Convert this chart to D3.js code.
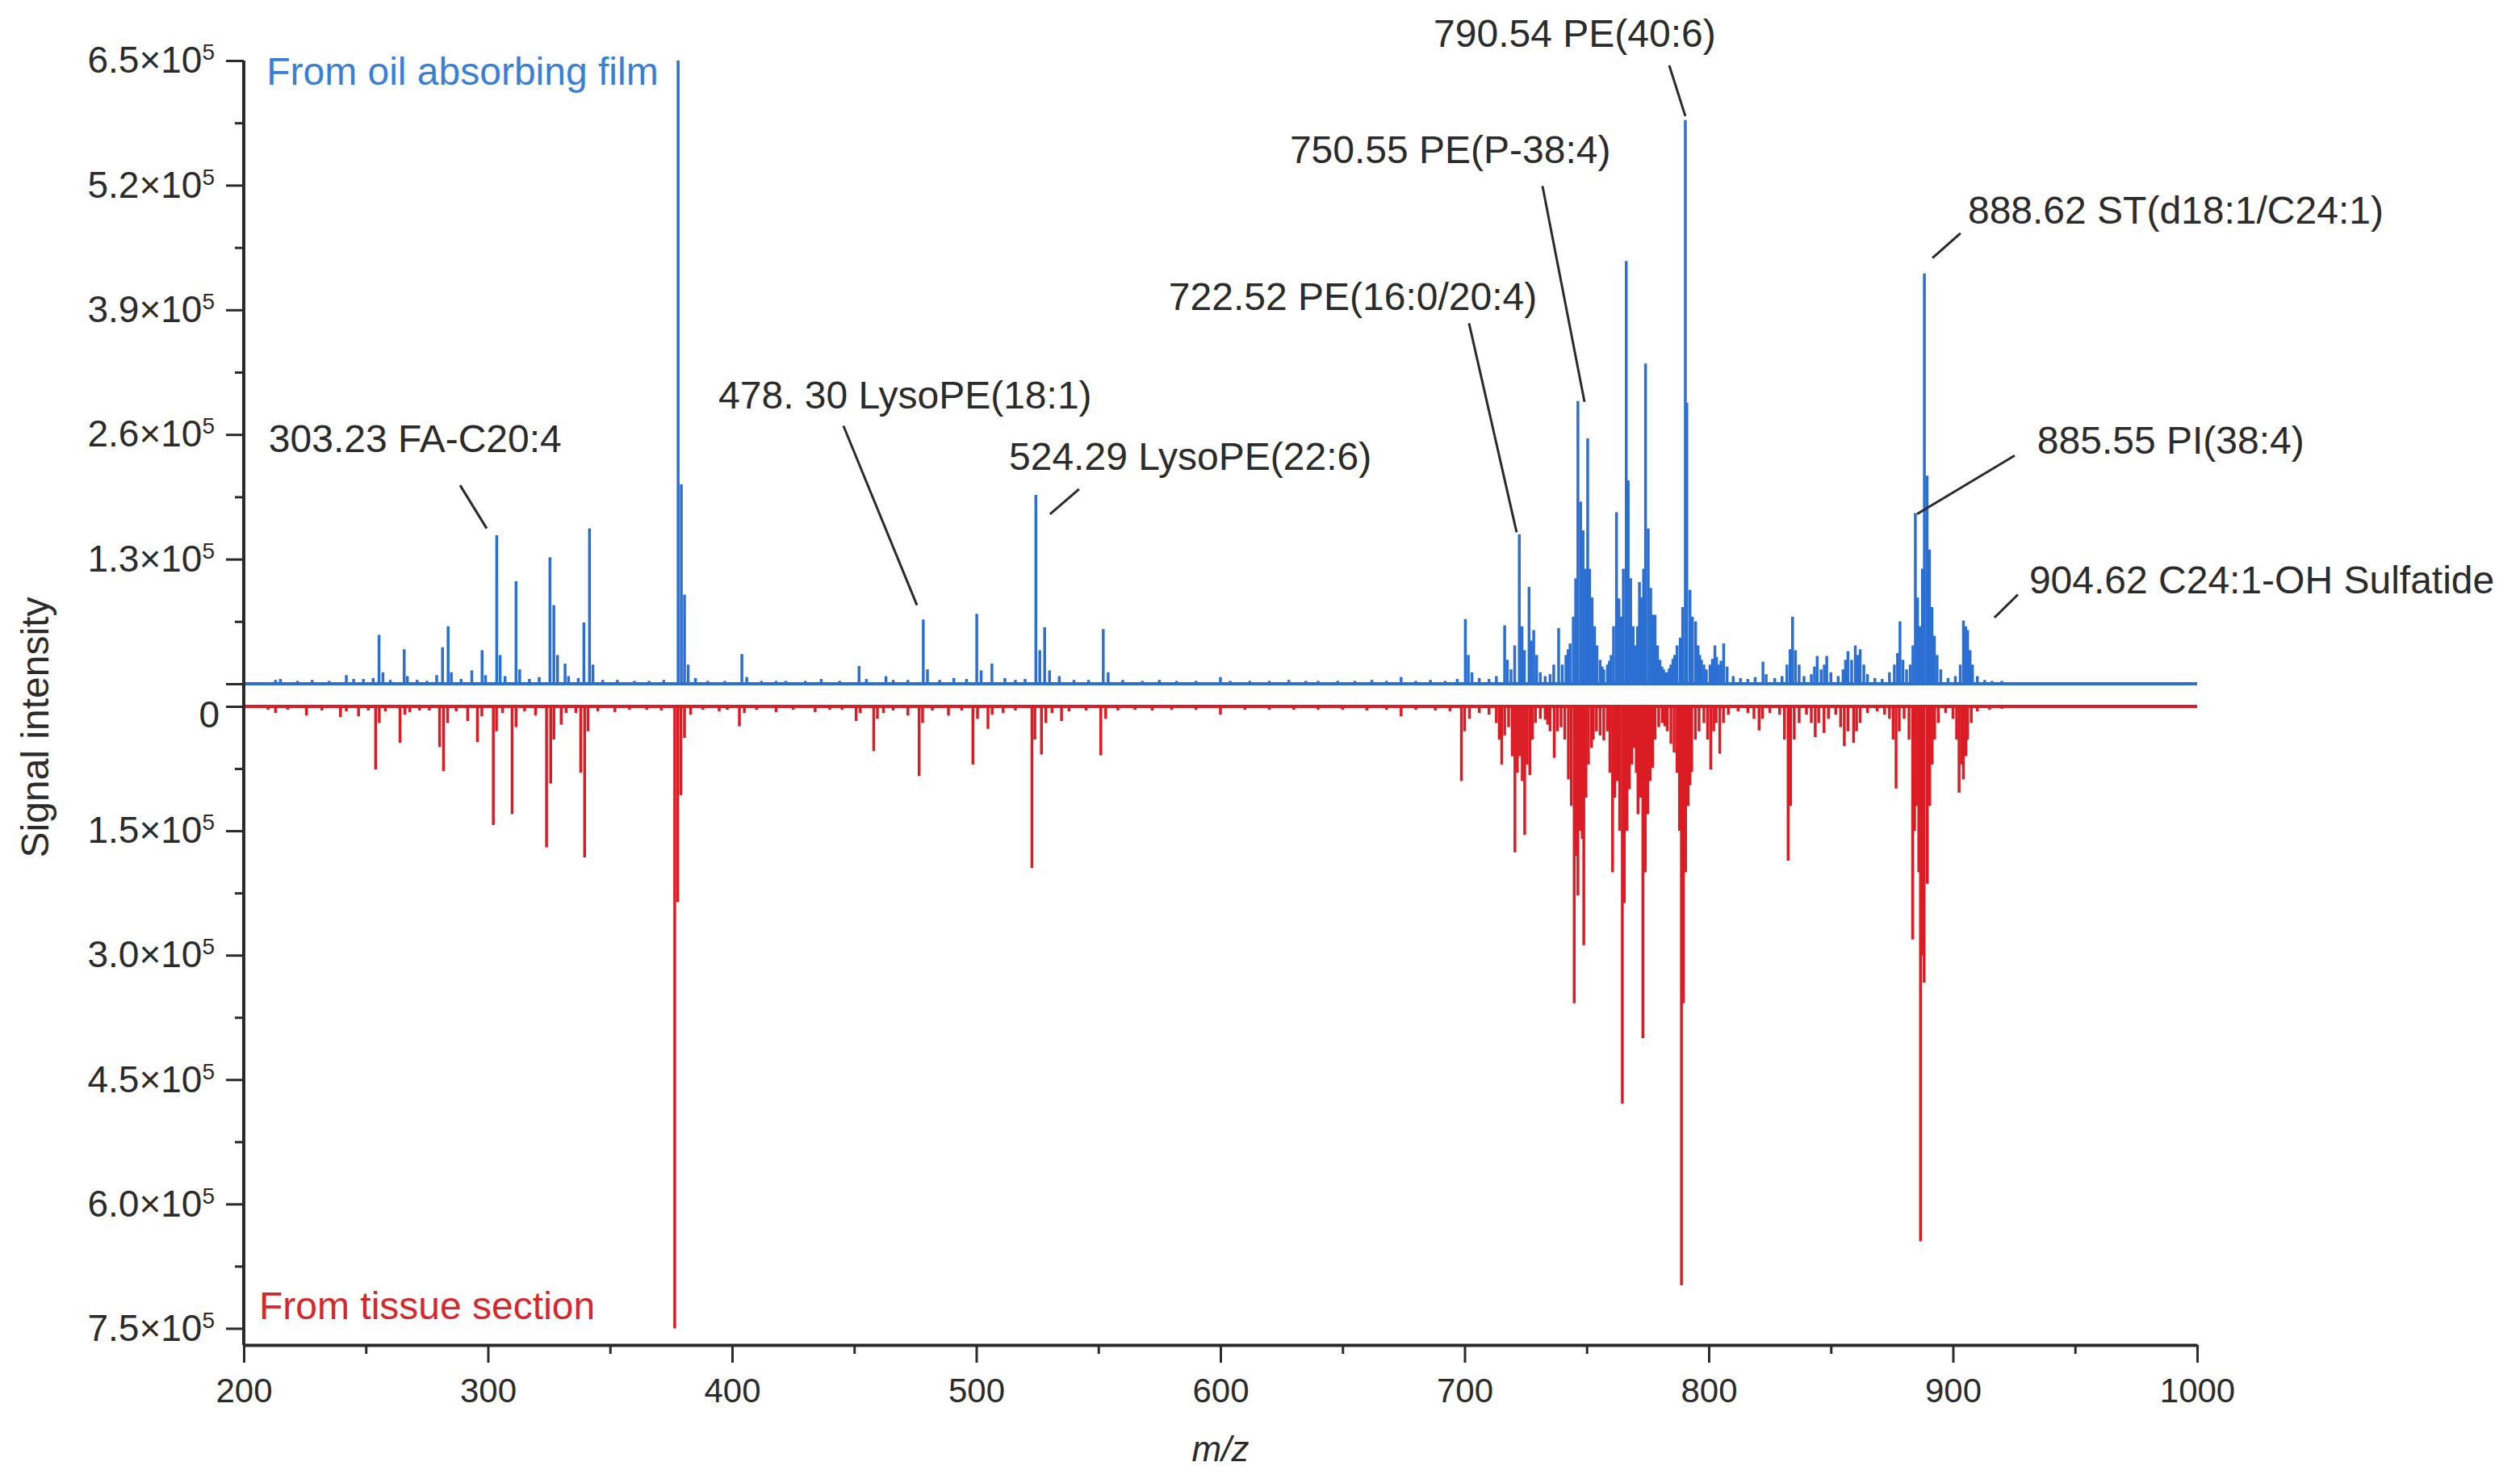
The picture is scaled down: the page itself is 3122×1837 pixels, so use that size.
<!DOCTYPE html>
<html>
<head>
<meta charset="utf-8">
<script src="https://cdn.jsdelivr.net/npm/d3@7"></script>
<style>
  body { margin: 0; background: #fff; }
  text { font-family: "Liberation Sans", Arial, sans-serif; }
</style>
</head>
<body>
<div class="chart"></div>
<script>
let svgWidth = 3122;
let svgHeight = 1837;

// m/z, signal intensity (upper spectrum, oil absorbing film)
let topPeaks = [
  [213,4000],[215,5000],[222,3000],[228,4000],[235,3000],[242,9000],[245,5000],[249,5000],
  [253,6000],[255.4,51000],[257,12000],[260,4000],[265.7,36000],[267,8000],[271,4000],[275,3000],
  [279,9000],[281.4,38000],[283.7,60000],[285,12000],[289,5000],[293.4,14000],[297.6,35000],[299,9000],
  [303.6,155000],[305,30000],[307,8000],[311.5,107000],[313,15000],[317,5000],[321,7000],
  [325.4,132000],[327,82000],[328.5,30000],[331.6,21000],[333,8000],[337,6000],[339.3,64000],
  [341.6,162000],[343,20000],[347,4000],[353,4000],[360,3000],[366,3000],[372,4000],
  [377.9,650000],[379.2,208000],[380.5,93000],[382,20000],[385,6000],[390,3000],[397,3000],
  [404,31000],[406,7000],[412,3000],[418,3000],[422,3000],[430,3000],[436.5,5000],[444,3000],
  [452,18600],[455,5000],[463,8000],[466,4000],[472,4000],[478.3,67000],[480,15000],[485,4000],
  [490.8,6000],[496,5000],[500.2,73000],[502,14000],[506.4,21000],[511.7,6000],[516,4000],[520,5000],
  [524.4,197000],[526,35000],[528,59000],[530,14000],[534,8000],[540,4000],[546,4000],[552,57000],
  [554,12000],[560,4000],[568,3000],[575,4000],[582,3000],[590,3000],[600,7000],[604,3000],
  [612,3000],[620,3000],[628,4000],[635,3000],[640,3000],[648,3000],[655,3000],[662,4000],
  [668,3000],[674,7000],[680,3000],[686,4000],[692,3000],[697,5000],
  [700.3,67500],[701.5,30000],[703,12000],[706,6000],[710,5000],[713,8000],[716.4,61000],
  [717.5,25000],[719,15000],[720.5,40000],[722.4,156000],[723.5,60000],[724.5,35000],[726.4,101000],
  [727.3,45000],[728.3,56000],[729.5,30000],[731,12000],[733,8000],[735,10000],[736.5,20000],
  [738.5,58000],[740,20000],[741.5,30000],[742.4,36000],[743.2,42000],[744.5,70000],[745.5,110000],[746.4,295000],
  [747.5,190000],[748.5,160000],[749.5,120000],[750.4,256000],[751.2,120000],[752.2,90000],
  [753.2,60000],[754.2,40000],[755.5,25000],[756.3,18000],[757,15000],[758.5,20000],[759.3,24000],[760,30000],[761,60000],
  [762.2,179000],[763.2,89000],[764.2,70000],[765,120000],[766.2,441000],[767,212000],[768,110000],
  [769,60000],[770,40000],[770.8,60000],[771.6,106000],[772.5,90000],[773.3,120000],[774.1,334000],[775.2,162000],
  [776.2,100000],[777,72000],[778,72000],[779,40000],[780,25000],[780.8,18000],[781.5,15000],[782.3,12000],[783,12000],
  [783.8,16000],[784.5,20000],[785.3,26000],[786,30000],[787,40000],[788.3,48000],[789.3,80000],[790.4,588000],[791,293000],
  [792.3,98000],[793.3,70000],[794.6,65000],[795.6,40000],[796.3,30000],[797,25000],[798,20000],[799,15000],[800.5,20000],
  [801.5,26000],[802.5,40000],[803.2,28000],[804,20000],[805,24000],[806.1,42000],[807.5,18000],[810,8000],[813,6000],[816,5000],[819,7000],
  [822.2,23000],[823.5,10000],[827,6000],[830,8000],[832,20000],[833.3,36000],[834.3,70000],[835.5,35000],
  [837,20000],[839,8000],[842,10000],[843.3,18000],[844.4,29000],[846,15000],[847.3,20000],[848.3,29000],[850,12000],[853,8000],
  [855,15000],[856,25000],[857,34000],[858.5,25000],[860,40000],[861,30000],[862,36000],[863.5,20000],
  [865,10000],[868,6000],[871,5000],[874,12000],[876,20000],[877.3,32000],[878.3,65000],[879.5,25000],[881,15000],
  [882.5,20000],[883.6,40000],[884.6,178000],[885.5,90000],[886.5,60000],[887.5,120000],[888.3,428000],
  [889.4,217000],[890.4,140000],[891.4,80000],[892.4,50000],[893.5,30000],[895,15000],[898,6000],
  [901,8000],[903,20000],[904.3,66000],[905.2,60000],[906,56000],[907,35000],[908,20000],[910,8000],
  [913,4000],[916,3000],[920,3000]
];

// m/z, signal intensity (lower spectrum, tissue section)
let bottomPeaks = [
  [210,4000],[213,7800],[218,4000],[225.7,11000],[232,5000],[239.6,13000],[242,6000],[247,12000],
  [251,5000],[254,76000],[255.5,20000],[258,6000],[264,44000],[266,10000],[268,7000],[272,5000],
  [276,5000],[280.2,49000],[281.8,78000],[283.5,20000],[287,6000],[291.7,17500],[295.7,43000],
  [297.5,12000],[302.2,143000],[303.5,30000],[306,8000],[309.9,130000],[311.5,25000],[315,6000],
  [319.5,11000],[324,170000],[325.7,93000],[327,40000],[330,22000],[332,8000],[336,8000],
  [338,80000],[339.6,182000],[341,30000],[345,6000],[352,7000],[358,4000],[365,4000],[371,5000],
  [376.5,750000],[377.7,236000],[379,107000],[380.5,38000],[383,10000],[388,4000],[394.7,6000],
  [398,4000],[403,24000],[405,8000],[410,4000],[418,7000],[425,4000],[434,7000],[440,4000],
  [445,4000],[450.8,17500],[452.5,8000],[458,54000],[459.5,15000],[462,8000],[466,5000],
  [472,11000],[476.6,84000],[478,20000],[482,5000],[488.6,11000],[494,5000],[498.6,70000],
  [500.5,15000],[504.8,27000],[506.5,10000],[511,8000],[516,5000],[522.8,195000],[524,40000],
  [526.7,58000],[528.5,20000],[531,8000],[534.9,17500],[538,6000],[545,5000],[551,59000],
  [553,15000],[558,5000],[565,4000],[572,5000],[580,4000],[590,4000],[600,10000],[610,4000],
  [620,4000],[630,4000],[640,4000],[650,4000],[660,5000],[668,4000],[674,12000],[680,4000],
  [688,5000],[694,6000],
  [698.7,90000],[700,30000],[702,15000],[706,8000],[710,10000],[713,20000],[714.2,40000],[715.2,70000],
  [716.4,35000],[718,25000],[719.5,60000],[720.6,176000],[721.6,80000],[722.6,60000],[723.6,90000],
  [724.6,155000],[725.6,70000],[726.7,83000],[727.8,40000],[729,20000],[731,15000],[733,16000],
  [734,22000],[735,30000],[736.7,62000],[738,30000],[739.5,25000],[741,40000],[742.5,88000],[743.7,120000],
  [744.9,358000],[745.7,180000],[746.4,228000],[747.3,150000],[748.2,160000],[748.8,288000],
  [749.7,110000],[750.7,70000],[752,50000],[752.7,40000],[754,30000],[755.5,35000],[757,41000],
  [758.5,30000],[759.5,80000],[760.6,200000],[761.5,110000],[762.5,90000],[763.5,150000],
  [764.6,479000],[765.4,237000],[766.5,150000],[767.5,100000],[768.5,70000],[769.5,50000],
  [770.3,80000],[771,130000],[772,110000],[773,400000],[774,200000],[775,130000],[776,90000],[777,74000],
  [778,40000],[779.5,25000],[781,20000],[782,24000],[783,30000],[784.5,45000],[785.8,55500],[787,80000],
  [788,150000],[788.8,698000],[789.6,358000],[790.5,200000],[791.5,120000],[792.3,95000],[793,79000],
  [794.5,40000],[796,30000],[798,20000],[799.5,40000],[800.8,76000],[802,30000],[803,20000],[804.5,57000],
  [806,20000],[808,10000],[812,6000],[816,8000],[818.5,15000],[820.6,29000],[822,15000],[825,8000],
  [829,10000],[831,40000],[832.5,186000],[833.5,120000],[835,40000],[837,20000],[840,10000],
  [842,20000],[843.6,37000],[845,20000],[847.2,32000],[849,15000],[852,10000],[854,25000],
  [855.5,48000],[857,30000],[859.3,44000],[860.5,30000],[862,20000],[865,8000],[869,6000],
  [872,10000],[874,15000],[875.5,40000],[876.7,99000],[878,30000],[880,15000],[882,40000],
  [883.5,281000],[884.3,150000],[885,120000],[886,200000],[886.7,645000],[887.5,300000],
  [888.2,333000],[889.5,214000],[890.5,120000],[891.5,70000],[892.5,40000],[894,20000],[897,8000],
  [900,15000],[901.5,40000],[902.5,104000],[903.5,70000],[904.3,88000],[905.3,60000],[906,40000],
  [907.5,20000],[910,6000],[915,4000],[920,3000]
];

// axis ticks
let xTicks = [200, 300, 400, 500, 600, 700, 800, 900, 1000];
let xMinorTicks = [250, 350, 450, 550, 650, 750, 850, 950];
let topTicks = [0, 130000, 260000, 390000, 520000, 650000];
let topMinorTicks = [65000, 195000, 325000, 455000, 585000];
let bottomTicks = [0, 150000, 300000, 450000, 600000, 750000];
let bottomMinorTicks = [75000, 225000, 375000, 525000, 675000];

// peak labels: text anchor [m/z, intensity], leader line from -> to (upper spectrum units)
let annotations = [
  { label: "303.23 FA-C20:4", at: [210.2, 242000], from: [288.6, 207000], to: [299.5, 162000] },
  { label: "478. 30 LysoPE(18:1)", at: [394.4, 287000], from: [445.6, 269000], to: [475.7, 82000] },
  { label: "524.29 LysoPE(22:6)", at: [513.4, 223000], from: [530.2, 177000], to: [542.1, 203000] },
  { label: "722.52 PE(16:0/20:4)", at: [578.8, 390000], from: [701.8, 376000], to: [721.3, 158000] },
  { label: "750.55 PE(P-38:4)", at: [628.4, 543000], from: [731.9, 519000], to: [749.1, 294000] },
  { label: "790.54 PE(40:6)", at: [687.3, 664000], from: [783.8, 645000], to: [790.4, 592000] },
  { label: "888.62 ST(d18:1/C24:1)", at: [906.1, 480000], from: [891.6, 444000], to: [903.1, 470000] },
  { label: "885.55 PI(38:4)", at: [934.5, 240000], from: [885.3, 177000], to: [925.3, 238000] },
  { label: "904.62 C24:1-OH Sulfatide", at: [931.2, 94500], from: [917.0, 69000], to: [926.6, 93000] }
];

let blue = "#2b6fd3";
let red = "#dc1c24";
let ink = "#2b2b2b";

let svg = d3.select(".chart")
    .append("svg")
    .attr("width", svgWidth)
    .attr("height", svgHeight);

let xScale = d3.scaleLinear().domain([200, 1000]).range([302, 2722]);
let yTop = d3.scaleLinear().domain([0, 650000]).range([847, 75]);
let yBottom = d3.scaleLinear().domain([0, 770000]).range([875, 1666]);

// peaks
svg.append("g").selectAll("line")
    .data(topPeaks)
    .enter()
    .append("line")
    .attr("x1", d => xScale(d[0]))
    .attr("x2", d => xScale(d[0]))
    .attr("y1", yTop(0))
    .attr("y2", d => yTop(d[1]))
    .attr("stroke", blue)
    .attr("stroke-width", 3.5);

svg.append("g").selectAll("line")
    .data(bottomPeaks)
    .enter()
    .append("line")
    .attr("x1", d => xScale(d[0]))
    .attr("x2", d => xScale(d[0]))
    .attr("y1", yBottom(0))
    .attr("y2", d => yBottom(d[1]))
    .attr("stroke", red)
    .attr("stroke-width", 3.5);

// baselines
svg.append("line")
    .attr("x1", xScale(200)).attr("x2", xScale(1000))
    .attr("y1", yTop(0)).attr("y2", yTop(0))
    .attr("stroke", blue).attr("stroke-width", 4);

svg.append("line")
    .attr("x1", xScale(200)).attr("x2", xScale(1000))
    .attr("y1", yBottom(0)).attr("y2", yBottom(0))
    .attr("stroke", red).attr("stroke-width", 4);

// x axis
let xAxis = svg.append("g")
    .attr("transform", `translate(0, ${yBottom.range()[1]})`)
    .call(d3.axisBottom(xScale).tickValues(xTicks).tickSize(22).tickPadding(19).tickSizeOuter(0)
        .tickFormat(d3.format("d")));

svg.append("g")
    .attr("transform", `translate(0, ${yBottom.range()[1]})`)
    .call(d3.axisBottom(xScale).tickValues(xMinorTicks).tickSize(11).tickFormat("").tickSizeOuter(0))
    .select(".domain").remove();

// y axes
function supLabel(v) {
    return (v / 100000).toFixed(1) + "×10";
}

let topAxis = svg.append("g")
    .attr("transform", `translate(${xScale(200)}, 0)`)
    .call(d3.axisLeft(yTop).tickValues(topTicks).tickSize(22).tickPadding(14).tickSizeOuter(0)
        .tickFormat(d => d === 0 ? "" : supLabel(d)));

svg.append("g")
    .attr("transform", `translate(${xScale(200)}, 0)`)
    .call(d3.axisLeft(yTop).tickValues(topMinorTicks).tickSize(11).tickFormat("").tickSizeOuter(0))
    .select(".domain").remove();

let bottomAxis = svg.append("g")
    .attr("transform", `translate(${xScale(200)}, 0)`)
    .call(d3.axisLeft(yBottom).tickValues(bottomTicks).tickSize(22).tickPadding(14).tickSizeOuter(0)
        .tickFormat(d => d === 0 ? "0" : supLabel(d)));

svg.append("g")
    .attr("transform", `translate(${xScale(200)}, 0)`)
    .call(d3.axisLeft(yBottom).tickValues(bottomMinorTicks).tickSize(11).tickFormat("").tickSizeOuter(0))
    .select(".domain").remove();

topAxis.select(".domain").remove();
bottomAxis.select(".domain").remove();

// one continuous y axis line
svg.append("line")
    .attr("x1", xScale(200)).attr("x2", xScale(200))
    .attr("y1", yTop(650000)).attr("y2", yBottom(770000))
    .attr("stroke", ink).attr("stroke-width", 4);

[topAxis, bottomAxis].forEach(ax => {
    ax.selectAll("text").each(function(d) {
        if (d === 0) return;
        let t = d3.select(this);
        let s = t.text();
        t.text(null);
        t.append("tspan").text(s);
        t.append("tspan").attr("font-size", 28).attr("dy", -16).text("5");
    });
});
bottomAxis.selectAll("text").filter(d => d === 0).attr("x", -30).attr("y", 11);

svg.selectAll(".tick line").attr("stroke", ink).attr("stroke-width", 3);
xAxis.select(".domain").attr("stroke", ink).attr("stroke-width", 4);

xAxis.selectAll("text").attr("font-size", 42).attr("fill", ink)
    .style("font-family", "'Liberation Sans', Arial, sans-serif");
[topAxis, bottomAxis].forEach(ax => ax.selectAll("text")
    .attr("font-size", 46).attr("fill", ink)
    .style("font-family", "'Liberation Sans', Arial, sans-serif"));

// axis titles
svg.append("text")
    .attr("x", (xScale(200) + xScale(1000)) / 2)
    .attr("y", 1810)
    .attr("text-anchor", "middle")
    .attr("font-size", 44)
    .attr("font-style", "italic")
    .attr("fill", ink)
    .text("m/z");

svg.append("text")
    .attr("transform", "rotate(-90)")
    .attr("x", -901)
    .attr("y", 60)
    .attr("text-anchor", "middle")
    .attr("font-size", 48)
    .attr("fill", ink)
    .text("Signal intensity");

// series labels
svg.append("text")
    .attr("x", xScale(209.3))
    .attr("y", yTop(625000))
    .attr("font-size", 48)
    .attr("fill", "#3a7fd6")
    .text("From oil absorbing film");

svg.append("text")
    .attr("x", xScale(206.3))
    .attr("y", yBottom(739000))
    .attr("font-size", 48)
    .attr("fill", "#d6282c")
    .text("From tissue section");

// peak annotations
let notes = svg.append("g");
notes.selectAll("line")
    .data(annotations)
    .enter()
    .append("line")
    .attr("x1", d => xScale(d.from[0]))
    .attr("y1", d => yTop(d.from[1]))
    .attr("x2", d => xScale(d.to[0]))
    .attr("y2", d => yTop(d.to[1]))
    .attr("stroke", ink)
    .attr("stroke-width", 3);

notes.selectAll("text")
    .data(annotations)
    .enter()
    .append("text")
    .attr("x", d => xScale(d.at[0]))
    .attr("y", d => yTop(d.at[1]))
    .attr("font-size", 48)
    .attr("fill", ink)
    .text(d => d.label);
</script>
</body>
</html>
